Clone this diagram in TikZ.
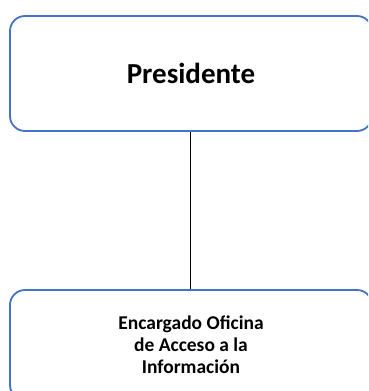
\documentclass[tikz,border=0pt]{standalone}
\usepackage{fontspec}
\setmainfont{Carlito}
\definecolor{boxblue}{HTML}{4472C4}
\tikzset{
  orgbox/.style={draw=boxblue, line width=1.8pt, rounded corners=15pt, fill=white,
    minimum width=362pt, inner sep=0pt, align=center, font=\bfseries},
  link/.style={draw=black, line width=0.9pt}
}
\begin{document}
\begin{tikzpicture}[x=1pt,y=1pt]
\useasboundingbox (0,0) rectangle (368,-391);
\clip (0,0) rectangle (368,-391);
\node[orgbox, minimum height=115pt, font=\bfseries\fontsize{29}{33}\selectfont] (pres) at (191,-73.5) {Presidente};
\node[orgbox, minimum height=110pt, font=\bfseries\fontsize{19.5}{22}\selectfont] (enc) at (191,-345) {Encargado Oficina\\de Acceso a la\\Información};
\draw[link] (pres.south -| 190,0) -- (enc.north -| 190,0);
\end{tikzpicture}
\end{document}
